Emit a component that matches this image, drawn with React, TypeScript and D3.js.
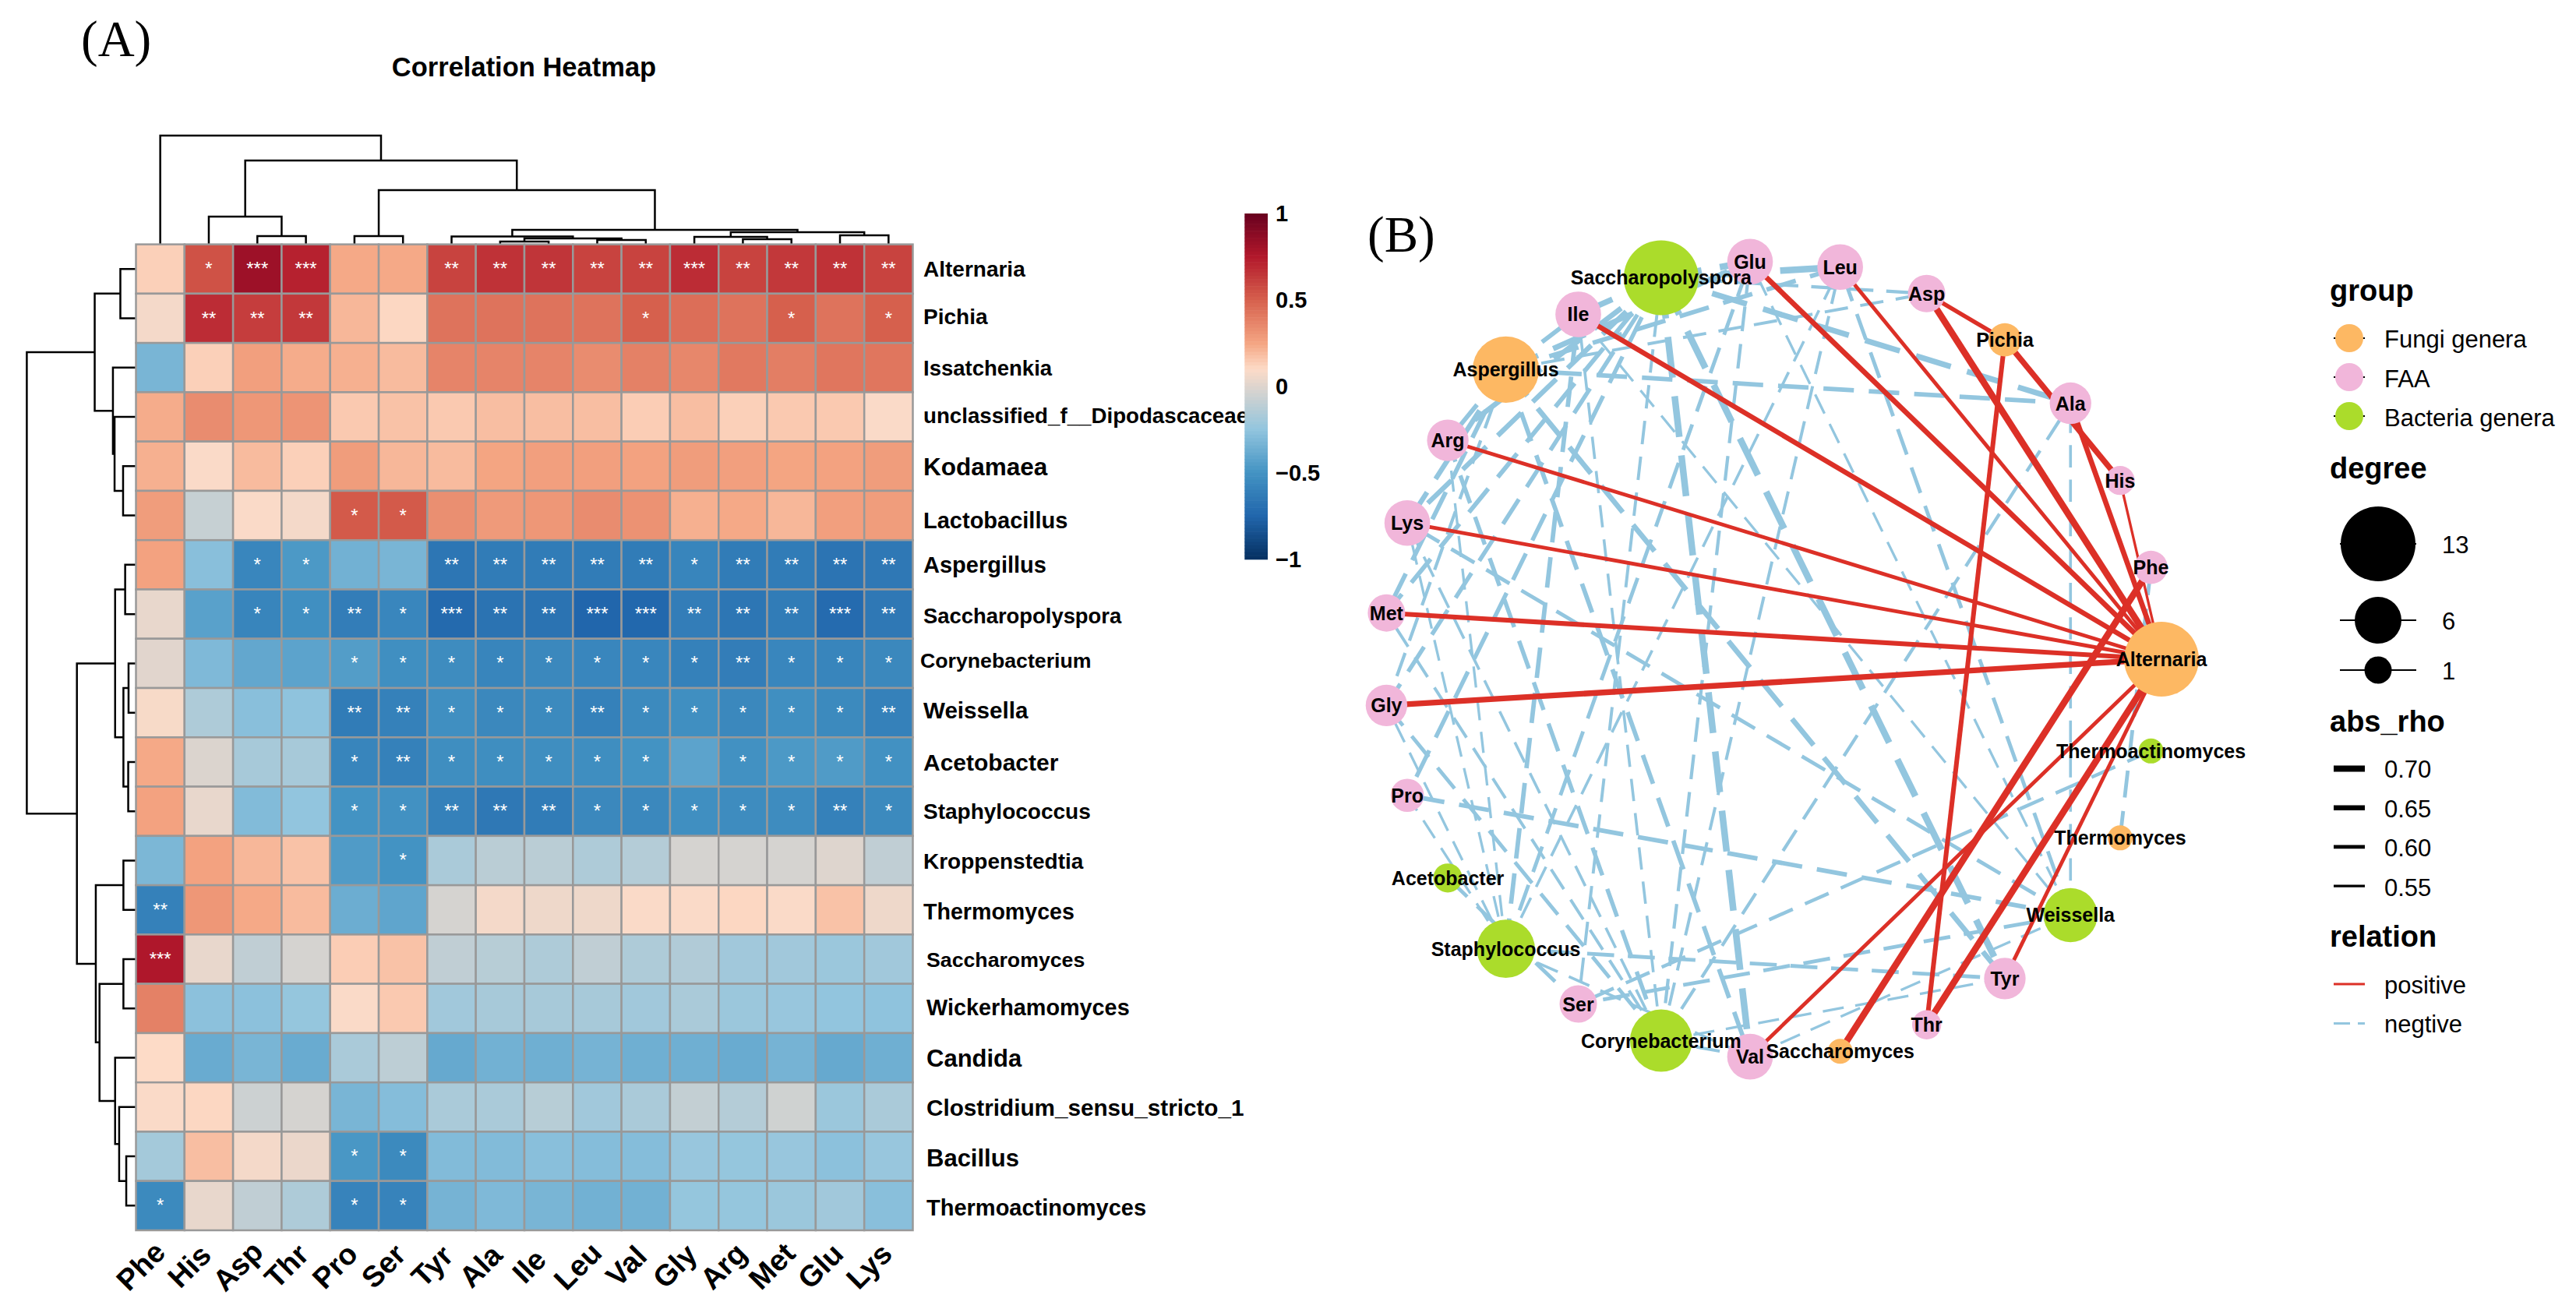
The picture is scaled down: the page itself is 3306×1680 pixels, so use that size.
import * as d3 from 'd3';

const aminoAcids = ['Phe', 'His', 'Asp', 'Thr', 'Pro', 'Ser', 'Tyr', 'Ala', 'Ile', 'Leu', 'Val', 'Gly', 'Arg', 'Met', 'Glu', 'Lys'];
const genera = [
  'Alternaria', 'Pichia', 'Issatchenkia', 'unclassified_f__Dipodascaceae', 'Kodamaea', 'Lactobacillus',
  'Aspergillus', 'Saccharopolyspora', 'Corynebacterium', 'Weissella', 'Acetobacter', 'Staphylococcus',
  'Kroppenstedtia', 'Thermomyces', 'Saccharomyces', 'Wickerhamomyces', 'Candida',
  'Clostridium_sensu_stricto_1', 'Bacillus', 'Thermoactinomyces',
];
const genusLabelSizes = [28, 28, 27.5, 27.7, 31.5, 29, 29, 27.4, 26.7, 29.6, 30, 28, 28, 28.6, 26.7, 28.8, 31, 29.7, 31, 29];
const genusLabelShift = [0, -3, 0, -2, 0, 6, 0, 2, -4, -3, 0, 0, 0, 2, 0, -2, 0, 0, 2, 2];
const genusLabelStart = [1185, 1185, 1185, 1185, 1185, 1185, 1185, 1185, 1181, 1185, 1185, 1185, 1185, 1185, 1189, 1189, 1189, 1189, 1189, 1189];

// rho per genus, same order as aminoAcids
const rho = [
  [0.13, 0.55, 0.82, 0.72, 0.24, 0.24, 0.6, 0.66, 0.65, 0.6, 0.6, 0.68, 0.6, 0.64, 0.66, 0.6],
  [0.07, 0.68, 0.62, 0.64, 0.2, 0.11, 0.43, 0.43, 0.43, 0.43, 0.5, 0.45, 0.43, 0.5, 0.43, 0.5],
  [-0.33, 0.13, 0.27, 0.23, 0.22, 0.19, 0.37, 0.37, 0.37, 0.34, 0.38, 0.36, 0.41, 0.39, 0.42, 0.42],
  [0.23, 0.34, 0.3, 0.31, 0.15, 0.17, 0.15, 0.18, 0.18, 0.18, 0.14, 0.18, 0.13, 0.15, 0.15, 0.09],
  [0.22, 0.09, 0.19, 0.13, 0.28, 0.2, 0.19, 0.25, 0.27, 0.27, 0.26, 0.28, 0.27, 0.25, 0.26, 0.28],
  [0.28, -0.08, 0.09, 0.07, 0.52, 0.52, 0.33, 0.29, 0.3, 0.34, 0.32, 0.22, 0.24, 0.2, 0.27, 0.28],
  [0.26, -0.28, -0.57, -0.47, -0.35, -0.33, -0.66, -0.63, -0.63, -0.63, -0.63, -0.58, -0.63, -0.63, -0.67, -0.65],
  [0.03, -0.43, -0.58, -0.52, -0.62, -0.57, -0.73, -0.68, -0.68, -0.75, -0.74, -0.62, -0.66, -0.63, -0.72, -0.65],
  [0.01, -0.31, -0.4, -0.42, -0.45, -0.52, -0.54, -0.58, -0.56, -0.57, -0.57, -0.6, -0.62, -0.57, -0.58, -0.56],
  [0.08, -0.16, -0.28, -0.26, -0.63, -0.6, -0.52, -0.56, -0.55, -0.6, -0.55, -0.52, -0.56, -0.52, -0.55, -0.6],
  [0.24, -0.01, -0.18, -0.18, -0.58, -0.6, -0.53, -0.53, -0.53, -0.53, -0.5, -0.42, -0.51, -0.47, -0.46, -0.51],
  [0.26, 0.03, -0.3, -0.25, -0.5, -0.51, -0.6, -0.65, -0.63, -0.56, -0.56, -0.52, -0.54, -0.54, -0.6, -0.55],
  [-0.32, 0.26, 0.2, 0.17, -0.46, -0.5, -0.17, -0.12, -0.12, -0.16, -0.14, -0.03, -0.03, -0.03, 0.0, -0.1],
  [-0.6, 0.3, 0.24, 0.19, -0.37, -0.41, -0.03, 0.07, 0.05, 0.05, 0.09, 0.09, 0.11, 0.09, 0.17, 0.05],
  [0.76, 0.03, -0.1, -0.03, 0.14, 0.17, -0.1, -0.13, -0.16, -0.1, -0.16, -0.15, -0.2, -0.2, -0.22, -0.2],
  [0.38, -0.27, -0.27, -0.24, 0.09, 0.15, -0.2, -0.18, -0.18, -0.18, -0.2, -0.17, -0.22, -0.23, -0.25, -0.26],
  [0.1, -0.38, -0.33, -0.38, -0.17, -0.11, -0.39, -0.35, -0.36, -0.34, -0.36, -0.36, -0.38, -0.34, -0.39, -0.36],
  [0.09, 0.11, -0.06, -0.03, -0.33, -0.29, -0.17, -0.17, -0.13, -0.2, -0.17, -0.09, -0.14, -0.05, -0.22, -0.17],
  [-0.19, 0.18, 0.07, 0.04, -0.48, -0.55, -0.3, -0.3, -0.28, -0.29, -0.29, -0.23, -0.24, -0.23, -0.27, -0.23],
  [-0.55, 0.03, -0.1, -0.16, -0.59, -0.59, -0.34, -0.31, -0.33, -0.35, -0.35, -0.24, -0.24, -0.22, -0.2, -0.28],
];

// significance marks, one string per genus, columns split by a comma
const stars = [
  ',*,***,***,,,**,**,**,**,**,***,**,**,**,**',
  ',**,**,**,,,,,,,*,,,*,,*',
  ',,,,,,,,,,,,,,,',
  ',,,,,,,,,,,,,,,',
  ',,,,,,,,,,,,,,,',
  ',,,,*,*,,,,,,,,,,',
  ',,*,*,,,**,**,**,**,**,*,**,**,**,**',
  ',,*,*,**,*,***,**,**,***,***,**,**,**,***,**',
  ',,,,*,*,*,*,*,*,*,*,**,*,*,*',
  ',,,,**,**,*,*,*,**,*,*,*,*,*,**',
  ',,,,*,**,*,*,*,*,*,,*,*,*,*',
  ',,,,*,*,**,**,**,*,*,*,*,*,**,*',
  ',,,,,*,,,,,,,,,,',
  '**,,,,,,,,,,,,,,,',
  '***,,,,,,,,,,,,,,,',
  ',,,,,,,,,,,,,,,',
  ',,,,,,,,,,,,,,,',
  ',,,,,,,,,,,,,,,',
  ',,,,*,*,,,,,,,,,,',
  '*,,,,*,*,,,,,,,,,,',
];

type Den = string | { h: number; kids: [Den, Den] };
const n = (h: number, a: Den, b: Den): Den => ({ h, kids: [a, b] });

const colTree: Den = n(1, 'Phe',
  n(0.771,
    n(0.255, 'His', n(0.076, 'Asp', 'Thr')),
    n(0.499,
      n(0.076, 'Pro', 'Ser'),
      n(0.133,
        n(0.072, 'Tyr', n(0.054, n(0.026, 'Ala', 'Ile'), n(0.04, 'Leu', 'Val'))),
        n(0.112, n(0.069, 'Gly', n(0.047, 'Arg', 'Met')), n(0.083, 'Glu', 'Lys'))))));

const rowTree: Den = n(1,
  n(0.378,
    n(0.143, 'Alternaria', 'Pichia'),
    n(0.211, 'Issatchenkia', n(0.196, 'unclassified_f__Dipodascaceae', n(0.118, 'Kodamaea', 'Lactobacillus')))),
  n(0.541,
    n(0.191,
      n(0.099, 'Aspergillus', 'Saccharopolyspora'),
      n(0.115, n(0.068, 'Corynebacterium', 'Weissella'), n(0.071, 'Acetobacter', 'Staphylococcus'))),
    n(0.368,
      n(0.115, 'Kroppenstedtia', 'Thermomyces'),
      n(0.334,
        n(0.115, 'Saccharomyces', 'Wickerhamomyces'),
        n(0.191, 'Candida', n(0.154, 'Clostridium_sensu_stricto_1', n(0.089, 'Bacillus', 'Thermoactinomyces')))))));

// network, counter-clockwise from the right
const nodeNames = [
  'Alternaria', 'Phe', 'His', 'Ala', 'Pichia', 'Asp', 'Leu', 'Glu', 'Saccharopolyspora', 'Ile', 'Aspergillus',
  'Arg', 'Lys', 'Met', 'Gly', 'Pro', 'Acetobacter', 'Staphylococcus', 'Ser', 'Corynebacterium', 'Val',
  'Saccharomyces', 'Thr', 'Tyr', 'Weissella', 'Thermomyces', 'Thermoactinomyces',
];
const nodeDegrees = [13, 3, 2, 5, 3, 4, 6, 6, 13, 6, 11, 5, 6, 4, 5, 3, 2, 9, 4, 10, 6, 1, 2, 5, 8, 1, 1];
const fungi = ['Alternaria', 'Pichia', 'Aspergillus', 'Saccharomyces', 'Thermomyces'];
const bacteria = ['Saccharopolyspora', 'Acetobacter', 'Staphylococcus', 'Corynebacterium', 'Weissella', 'Thermoactinomyces'];

const edgeLists: [string, string[]][] = [
  ['Aspergillus', ['Asp', 'Tyr', 'Ala', 'Ile', 'Leu', 'Val', 'Gly', 'Arg', 'Met', 'Glu', 'Lys']],
  ['Saccharopolyspora', ['Asp', 'Pro', 'Ser', 'Tyr', 'Ala', 'Ile', 'Leu', 'Val', 'Gly', 'Arg', 'Met', 'Glu', 'Lys']],
  ['Corynebacterium', ['Tyr', 'Ala', 'Ile', 'Leu', 'Val', 'Gly', 'Arg', 'Met', 'Glu', 'Lys']],
  ['Staphylococcus', ['Pro', 'Tyr', 'Ile', 'Leu', 'Val', 'Gly', 'Arg', 'Glu', 'Lys']],
  ['Weissella', ['Pro', 'Ser', 'Ala', 'Ile', 'Leu', 'Val', 'Glu', 'Lys']],
  ['Acetobacter', ['Ser']],
  ['Thermoactinomyces', ['Ser']],
  ['Thermomyces', ['Phe']],
  ['Alternaria', ['His', 'Asp', 'Thr', 'Tyr', 'Ala', 'Ile', 'Leu', 'Val', 'Gly', 'Arg', 'Met', 'Glu', 'Lys']],
  ['Pichia', ['His', 'Asp', 'Thr']],
  ['Saccharomyces', ['Phe']],
];

const groupLegend = [
  { label: 'Fungi genera', color: '#FDB863' },
  { label: 'FAA', color: '#F1B6DA' },
  { label: 'Bacteria genera', color: '#ABDC2B' },
];
const degreeLegend = [13, 6, 1];
const rhoLegend = [0.7, 0.65, 0.6, 0.55];
const colorbarTicks = [1, 0.5, 0, -0.5, -1];

const RED = '#DC3027';
const BLUE = '#93C6DF';
const SANS = '"Liberation Sans", Arial, sans-serif';
const SERIF = '"Liberation Serif", "Times New Roman", serif';

const colorScale = d3.scaleLinear<string>()
  .domain([-1, -0.75, -0.5, -0.25, 0.1, 0.25, 0.5, 0.75, 1])
  .range(['#053061', '#2166AC', '#4393C3', '#92C5DE', '#FDDBC7', '#F4A582', '#D6604D', '#B2182B', '#67001F'])
  .clamp(true);

const x = d3.scaleBand().domain(aminoAcids).range([174.5, 1171.5]);
const y = d3.scaleBand().domain(genera).range([313.6, 1579]);
const colHeight = d3.scaleLinear().domain([0, 1]).range([313.6, 174]);
const rowHeight = d3.scaleLinear().domain([0, 1]).range([174.5, 34.4]);
const barY = d3.scaleLinear().domain([1, -1]).range([274, 717.7]);

const cx = (name: string) => (x(name) ?? 0) + x.bandwidth() / 2;
const cy = (name: string) => (y(name) ?? 0) + y.bandwidth() / 2;

// walks a dendrogram and returns one path per merge
function treePaths(node: Den, leaf: (s: string) => number, height: (h: number) => number, horizontal: boolean) {
  const paths: string[] = [];
  const walk = (d: Den): { p: number; h: number } => {
    if (typeof d === 'string') return { p: leaf(d), h: height(0) };
    const a = walk(d.kids[0]);
    const b = walk(d.kids[1]);
    const h = height(d.h);
    paths.push(horizontal
      ? `M${a.p},${a.h}V${h}H${b.p}V${b.h}`
      : `M${a.h},${a.p}H${h}V${b.p}H${b.h}`);
    return { p: (a.p + b.p) / 2, h };
  };
  walk(node);
  return paths;
}

const colPaths = treePaths(colTree, cx, colHeight, true);
const rowPaths = treePaths(rowTree, cy, rowHeight, false);

// circular layout
const angle = d3.scaleLinear().domain([0, nodeNames.length]).range([0, 2 * Math.PI]);
const nodeX = (i: number) => 2275 + 499 * Math.cos(angle(i));
const nodeY = (i: number) => 846 - 511 * Math.sin(angle(i));
const nodeIndex = (name: string) => nodeNames.indexOf(name);
const nodeR = d3.scaleLinear().domain([1, 13]).range([16, 48]);
const edgeW = d3.scaleLinear().domain([0.55, 0.72]).range([3.3, 8.5]).clamp(true);

const edges = edgeLists.flatMap(([genus, targets]) => targets.map(t => ({
  source: genus,
  target: t,
  value: rho[genera.indexOf(genus)][aminoAcids.indexOf(t)],
})));

const nodeColor = (name: string) =>
  fungi.includes(name) ? groupLegend[0].color : bacteria.includes(name) ? groupLegend[2].color : groupLegend[1].color;

export default function App() {
  const barSteps = d3.range(1, -1, -0.02);
  return (
    <svg width={3306} height={1680} viewBox="0 0 3306 1680"
      style={{ position: 'absolute', left: 0, top: 0, background: '#fff' }} fontFamily={SANS}>
      <text x={104} y={72} fontFamily={SERIF} fontSize={65}>(A)</text>
      <text x={1755} y={323} fontFamily={SERIF} fontSize={65}>(B)</text>
      <text x={672.5} y={97.5} textAnchor="middle" fontWeight="bold" fontSize={34.5}>Correlation Heatmap</text>

      {/* dendrograms */}
      <g fill="none" stroke="#000" strokeWidth={2.5}>
        {colPaths.map((d, i) => <path key={i} d={d} />)}
        {rowPaths.map((d, i) => <path key={i} d={d} />)}
      </g>

      {/* heatmap */}
      {genera.map((g, r) => aminoAcids.map((a, c) => (
        <rect key={g + a} x={x(a)} y={y(g)} width={x.bandwidth()} height={y.bandwidth()}
          fill={colorScale(rho[r][c])} stroke="#999999" strokeWidth={2.5} />
      )))}
      {genera.map((g, r) => stars[r].split(',').map((s, c) => s && (
        <text key={g + c} x={cx(aminoAcids[c])} y={cy(g) + 8} textAnchor="middle" fill="#fff" fontSize={24}>{s}</text>
      )))}
      {genera.map((g, r) => (
        <text key={g} x={genusLabelStart[r]} y={cy(g) + 0.36 * genusLabelSizes[r] + genusLabelShift[r]}
          fontWeight="bold" fontSize={genusLabelSizes[r]}>{g}</text>
      ))}
      {aminoAcids.map(a => (
        <text key={a} transform={`translate(${cx(a) - 25},${1625}) rotate(-45)`} y={13} textAnchor="middle"
          fontWeight="bold" fontSize={38}>{a}</text>
      ))}

      {/* colour bar */}
      {barSteps.map(v => (
        <rect key={v} x={1597.3} y={barY(v)} width={29.7} height={barY(v - 0.02) - barY(v) + 0.6} fill={colorScale(v - 0.01)} />
      ))}
      {colorbarTicks.map(t => (
        <text key={t} x={1637} y={barY(t) + 10} fontWeight="bold" fontSize={29}>{t < 0 ? `\u2212${-t}` : t}</text>
      ))}

      {/* network */}
      <g fill="none">
        {edges.map(e => {
          const a = nodeIndex(e.source);
          const b = nodeIndex(e.target);
          const w = edgeW(Math.abs(e.value));
          return (
            <line key={e.source + e.target} x1={nodeX(a)} y1={nodeY(a)} x2={nodeX(b)} y2={nodeY(b)}
              stroke={e.value > 0 ? RED : BLUE} strokeWidth={w}
              strokeDasharray={e.value > 0 ? undefined : `${11 + 4.9 * w} ${9.4 + 1.7 * w}`} />
          );
        })}
      </g>
      {nodeNames.map((name, i) => (
        <circle key={name} cx={nodeX(i)} cy={nodeY(i)} r={nodeR(nodeDegrees[i])} fill={nodeColor(name)} />
      ))}
      {nodeNames.map((name, i) => (
        <text key={name} x={nodeX(i)} y={nodeY(i) + 9} textAnchor="middle" fontWeight="bold" fontSize={25}>{name}</text>
      ))}

      {/* legends */}
      <text x={2990} y={386} fontWeight="bold" fontSize={38}>group</text>
      {groupLegend.map((g, i) => (
        <g key={g.label}>
          <line x1={2995} x2={3035} y1={434 + i * 50} y2={434 + i * 50} stroke="#000" strokeWidth={2} />
          <circle cx={3015} cy={434 + i * 50} r={18} fill={g.color} />
          <text x={3060} y={446 + i * 50.5} fontSize={31}>{g.label}</text>
        </g>
      ))}
      <text x={2990} y={614} fontWeight="bold" fontSize={38}>degree</text>
      {degreeLegend.map((d, i) => {
        const ky = [698, 796, 860][i];
        return (
          <g key={d}>
            <line x1={3003} x2={3101} y1={ky} y2={ky} stroke="#000" strokeWidth={2} />
            <circle cx={3052} cy={ky} r={[48, 30, 17.5][i]} fill="#000" />
            <text x={3134} y={ky + 12} fontSize={31}>{d}</text>
          </g>
        );
      })}
      <text x={2990} y={939} fontWeight="bold" fontSize={38}>abs_rho</text>
      {rhoLegend.map((v, i) => (
        <g key={v}>
          <line x1={2995} x2={3035} y1={986.5 + i * 50.2} y2={986.5 + i * 50.2} stroke="#000" strokeWidth={edgeW(v)} />
          <text x={3060} y={998 + i * 50.5} fontSize={31}>{v.toFixed(2)}</text>
        </g>
      ))}
      <text x={2990} y={1215} fontWeight="bold" fontSize={38}>relation</text>
      <line x1={2995} x2={3035} y1={1263} y2={1263} stroke={RED} strokeWidth={3} />
      <text x={3060} y={1275} fontSize={31}>positive</text>
      <line x1={2995} x2={3035} y1={1313.4} y2={1313.4} stroke={BLUE} strokeWidth={3} strokeDasharray="21 10" />
      <text x={3060} y={1325} fontSize={31}>negtive</text>
    </svg>
  );
}
